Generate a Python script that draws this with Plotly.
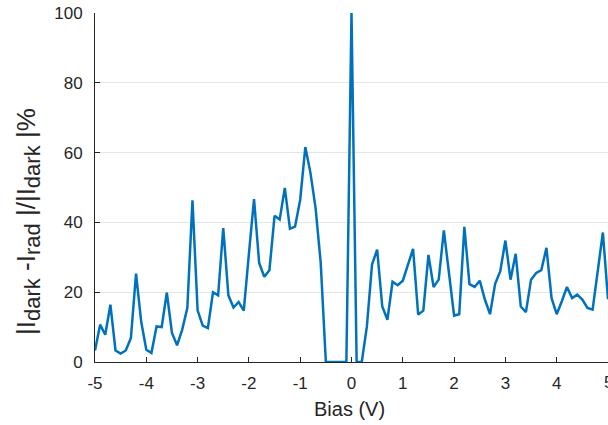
import plotly.graph_objects as go

# Bias grid (V), step 0.1 from -5 to 5
bias = [round(-5 + 0.1 * i, 1) for i in range(101)]

# |I_dark - I_rad| / |I_dark| in percent
diff_pct = [
    3.3, 10.7, 7.8, 16.4, 3.3, 2.4, 3.3, 6.9, 25.3, 11.6,
    3.5, 2.6, 10.2, 10.0, 19.9, 8.3, 4.8, 9.3, 15.5, 46.3,
    14.8, 10.4, 9.7, 20.0, 19.1, 38.4, 19.1, 15.6, 17.2, 14.7,
    31.0, 46.7, 28.4, 24.4, 26.3, 41.9, 40.8, 49.9, 38.2, 38.8,
    46.5, 61.6, 54.2, 44.1, 28.4, 0.0, 0.0, 0.0, 0.0, 0.0,
    100.0, 0.0, 0.0, 10.2, 27.9, 32.2, 15.9, 12.1, 23.0, 22.0,
    23.3, 27.9, 32.4, 13.6, 14.7, 30.7, 21.5, 23.6, 37.7, 25.5,
    13.3, 13.7, 38.7, 22.3, 21.5, 23.3, 17.9, 13.7, 22.4, 26.0,
    34.8, 23.6, 31.0, 15.9, 14.3, 23.6, 25.5, 26.3, 32.7, 18.3,
    13.7, 17.4, 21.5, 18.3, 19.3, 17.9, 15.5, 15.0, 26.0, 37.1,
    18.0,
]

x_ticks = [-5, -4, -3, -2, -1, 0, 1, 2, 3, 4, 5]
y_ticks = [0, 20, 40, 60, 80, 100]

FONT = "Liberation Sans, Arial, Helvetica, sans-serif"
AX = "#262626"
TICK_SIZE = 17


def sub(t):
    return '<sub><span style="font-size:22px">' + t + '</span></sub>'


ylabel = "|I" + sub("dark") + " -I" + sub("rad") + " |/|I" + sub("dark") + " |%"

fig = go.Figure()
fig.add_trace(go.Scatter(
    x=bias, y=diff_pct, mode="lines",
    line=dict(color="#0072BD", width=2.5),
    hoverinfo="skip", showlegend=False,
))

fig.update_layout(
    width=608, height=425,
    margin=dict(l=95, r=0, t=13, b=63),
    paper_bgcolor="white", plot_bgcolor="white",
    font=dict(family=FONT, size=TICK_SIZE, color=AX),
    xaxis=dict(
        range=[-5, 5], tickvals=x_ticks[:-1], ticktext=[str(v) for v in x_ticks[:-1]],
        ticks="inside", ticklen=5, tickwidth=1, tickcolor=AX,
        showline=True, linecolor=AX, linewidth=1,
        showgrid=False, zeroline=False,
        ticklabelstandoff=6,
        tickfont=dict(family=FONT, size=TICK_SIZE, color=AX),
    ),
    yaxis=dict(
        range=[0, 100], tickvals=y_ticks, ticktext=[str(v) for v in y_ticks],
        ticks="inside", ticklen=5, tickwidth=1, tickcolor=AX,
        showline=True, linecolor=AX, linewidth=1,
        showgrid=True, gridcolor="#e5e5e5", gridwidth=1, zeroline=False,
        ticklabelstandoff=8,
        tickfont=dict(family=FONT, size=TICK_SIZE, color=AX),
    ),
    annotations=[
        # last x tick label, partly cut by the page edge as in the reference
        dict(text=str(x_ticks[-1]), xref="x", yref="paper",
             x=x_ticks[-1], y=-(382 - 362) / 349,
             xanchor="center", yanchor="middle", showarrow=False,
             font=dict(family=FONT, size=TICK_SIZE, color=AX)),
        dict(text="Bias (V)", xref="paper", yref="paper",
             x=(349 - 95) / 513, y=-(409 - 362) / 349,
             xanchor="center", yanchor="middle", showarrow=False,
             font=dict(family=FONT, size=20, color=AX)),
        dict(text=ylabel,
             xref="paper", yref="paper",
             x=(28 - 95) / 513, y=(362 - 222) / 349,
             xanchor="center", yanchor="middle", textangle=-90, showarrow=False,
             font=dict(family=FONT, size=26, color=AX)),
    ],
)

fig.write_html("out.html")
